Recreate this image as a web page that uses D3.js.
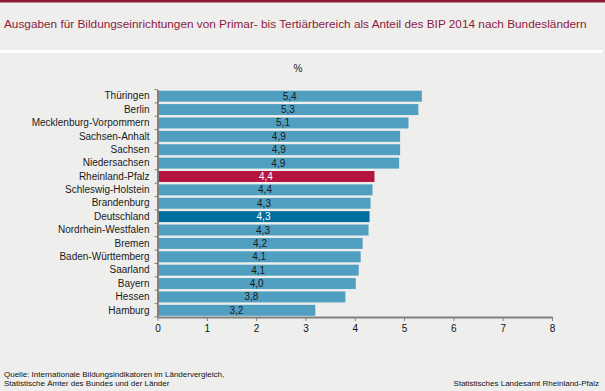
<!DOCTYPE html>
<html><head><meta charset="utf-8">
<script src="https://cdn.jsdelivr.net/npm/d3@7/dist/d3.min.js"></script>
<style>
html,body{margin:0;padding:0;background:#eeefed;}
svg{display:block;font-family:"Liberation Sans",Arial,sans-serif;}
</style></head><body>
<svg id="c" width="605" height="391"></svg>
<script>
const categories = ["Thüringen","Berlin","Mecklenburg-Vorpommern","Sachsen-Anhalt","Sachsen","Niedersachsen","Rheinland-Pfalz","Schleswig-Holstein","Brandenburg","Deutschland","Nordrhein-Westfalen","Bremen","Baden-Württemberg","Saarland","Bayern","Hessen","Hamburg"];
const values = [5.36,5.29,5.09,4.92,4.92,4.90,4.40,4.36,4.32,4.30,4.28,4.16,4.12,4.08,4.02,3.81,3.20];
const labels = ["5,4","5,3","5,1","4,9","4,9","4,9","4,4","4,4","4,3","4,3","4,3","4,2","4,1","4,1","4,0","3,8","3,2"];
const xTicks = [0,1,2,3,4,5,6,7,8];
const title = "Ausgaben für Bildungseinrichtungen von Primar- bis Tertiärbereich als Anteil des BIP 2014 nach Bundesländern";
const unit = "%";
const source = ["Quelle: Internationale Bildungsindikatoren im Ländervergleich,","Statistische Ämter des Bundes und der Länder"];
const publisher = "Statistisches Landesamt Rheinland-Pfalz";

const svg = d3.select("#c");
svg.append("rect").attr("x",0).attr("y",0).attr("width",605).attr("height",2.5).attr("fill","#8c1a35");
svg.append("rect").attr("x",0).attr("y",50).attr("width",603).attr("height",3).attr("fill","#ffffff");
svg.append("text").attr("x",4).attr("y",28).attr("font-size",11.8).attr("fill","#8c1a3c").text(title);
svg.append("text").attr("x",298).attr("y",72).attr("font-size",10).attr("text-anchor","middle").attr("fill","#222").text(unit);

const x = d3.scaleLinear().domain([0,8]).range([157.5,552]);
const y = d3.scaleBand().domain(categories).range([89.5,317]).paddingInner(0.18).paddingOuter(0.09);

const colorFor = c => c==="Rheinland-Pfalz" ? "#b5143f" : (c==="Deutschland" ? "#006fa0" : "#509fc1");
const textFor = c => (c==="Rheinland-Pfalz"||c==="Deutschland") ? "#ffffff" : "#1a1a1a";

const data = categories.map((c,i)=>({c, v:values[i], l:labels[i]}));
svg.append("g").selectAll("rect").data(data).join("rect")
  .attr("x", x(0)+1).attr("y", d=>y(d.c)).attr("width", d=>x(d.v)-x(0)-1).attr("height", y.bandwidth())
  .attr("fill", d=>colorFor(d.c));
svg.append("g").selectAll("text").data(data).join("text")
  .attr("x", d=>(x(0)+x(d.v))/2).attr("y", d=>y(d.c)+y.bandwidth()/2+3.5)
  .attr("text-anchor","middle").attr("font-size",10).attr("fill", d=>textFor(d.c)).text(d=>d.l);

// y axis
const ya = svg.append("g").attr("transform",`translate(${x(0)},0)`)
  .call(d3.axisLeft(y).tickSize(0).tickPadding(8));
ya.select(".domain").attr("stroke","#808080").attr("stroke-width",2);
ya.selectAll("text").attr("font-size",10).attr("fill","#1a1a1a").attr("font-family","Liberation Sans, Arial, sans-serif");
const step = y.step();
const bounds = categories.map(c=>y(c)-step*y.paddingInner()/2).concat([y.range()[1]]);
ya.selectAll("line.bt").data(bounds).join("line").attr("class","bt")
  .attr("x1",-3).attr("x2",0).attr("y1",d=>d).attr("y2",d=>d).attr("stroke","#808080").attr("stroke-width",1);

// x axis
const xa = svg.append("g").attr("transform",`translate(0,${y.range()[1]})`)
  .call(d3.axisBottom(x).tickValues(xTicks).tickSize(4).tickSizeOuter(0).tickPadding(4).tickFormat(d3.format("d")));
xa.select(".domain").attr("stroke","#808080").attr("stroke-width",2);
xa.selectAll(".tick line").attr("stroke","#808080");
xa.selectAll("text").attr("font-size",10).attr("fill","#111").attr("font-family","Liberation Sans, Arial, sans-serif");

// footer
svg.append("g").selectAll("text").data(source).join("text")
  .attr("x",4).attr("y",(d,i)=>377+i*9).attr("font-size",8).attr("fill","#111").text(d=>d);
svg.append("text").attr("x",599).attr("y",386).attr("text-anchor","end").attr("font-size",8).attr("fill","#111").text(publisher);
</script>
</body></html>
